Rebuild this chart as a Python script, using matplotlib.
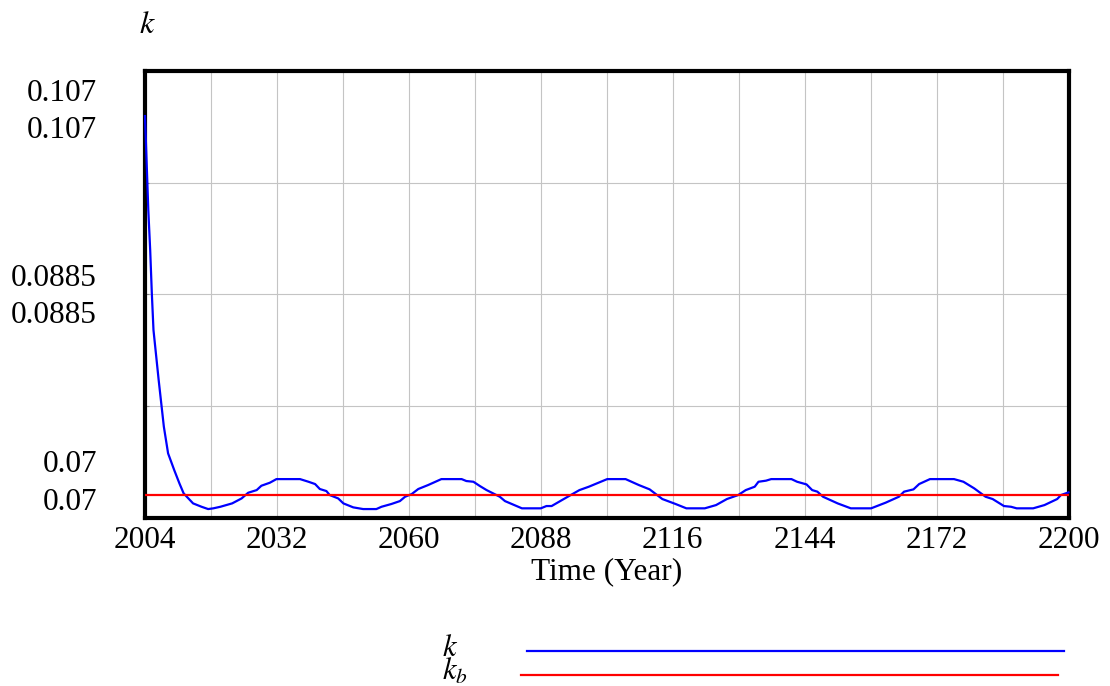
import numpy as np
import matplotlib
matplotlib.use("Agg")
import matplotlib.pyplot as plt
from matplotlib.lines import Line2D

plt.rcParams['font.family'] = ['Liberation Serif', 'DejaVu Serif']
plt.rcParams['mathtext.fontset'] = 'stix'

# data
years = [2004.0, 2004.7, 2005.1, 2005.45, 2005.8, 2006.9, 2008.0, 2008.9, 2010.2, 2011.3,
         2012.2, 2014.2, 2016.0, 2017.4, 2018.5, 2020.0, 2022.5, 2024.5, 2025.9, 2027.7,
         2028.7, 2030.5, 2031.9, 2036.9, 2038.7, 2040.1, 2041.1, 2042.5, 2043.2, 2045.0,
         2046.1, 2048.2, 2050.3, 2053.1, 2054.2, 2056.3, 2058.1, 2059.2, 2060.6, 2062.0,
         2064.1, 2066.9, 2071.2, 2072.2, 2073.7, 2075.1, 2076.5, 2079.3, 2080.4, 2084.0,
         2088.0, 2089.2, 2090.3, 2093.1, 2096.2, 2098.2, 2102.1, 2106.0, 2108.8, 2111.1,
         2113.8, 2116.6, 2118.9, 2122.8, 2125.2, 2127.5, 2129.9, 2131.5, 2133.4, 2134.2,
         2135.8, 2136.9, 2141.2, 2142.4, 2144.4, 2145.6, 2146.7, 2147.9, 2151.0, 2153.8,
         2158.1, 2161.2, 2164.0, 2165.1, 2167.1, 2168.3, 2170.6, 2175.7, 2177.7, 2180.0,
         2182.4, 2183.9, 2186.3, 2187.8, 2189.0, 2192.5, 2194.9, 2197.6, 2198.4, 2200.0]
k = [0.10327, 0.09549, 0.09218, 0.08859, 0.08556, 0.08142, 0.07756, 0.07535, 0.07397, 0.07287,
     0.07204, 0.07121, 0.07093, 0.07074, 0.07080, 0.07093, 0.07121, 0.07162, 0.07209, 0.07231,
     0.07267, 0.07292, 0.07322, 0.07322, 0.07300, 0.07281, 0.07240, 0.07223, 0.07190, 0.07162,
     0.07121, 0.07088, 0.07074, 0.07074, 0.07093, 0.07116, 0.07140, 0.07176, 0.07198, 0.07240,
     0.07273, 0.07322, 0.07322, 0.07306, 0.07300, 0.07264, 0.07231, 0.07176, 0.07140, 0.07080,
     0.07080, 0.07099, 0.07099, 0.07162, 0.07231, 0.07259, 0.07322, 0.07322, 0.07273, 0.07237,
     0.07157, 0.07116, 0.07080, 0.07080, 0.07107, 0.07157, 0.07190, 0.07231, 0.07259, 0.07300,
     0.07309, 0.07322, 0.07322, 0.07300, 0.07278, 0.07231, 0.07218, 0.07176, 0.07121, 0.07080,
     0.07080, 0.07127, 0.07176, 0.07218, 0.07237, 0.07281, 0.07322, 0.07322, 0.07300, 0.07245,
     0.07176, 0.07157, 0.07099, 0.07093, 0.07080, 0.07080, 0.07107, 0.07157, 0.07190, 0.07212]
kb_years = [2004, 2200]
kb = [0.0719, 0.0719]

x_ticks = [2004, 2032, 2060, 2088, 2116, 2144, 2172, 2200]
y_labels = ['0.107', '0.107', '0.0885', '0.0885', '0.07', '0.07']

W, H = 1110, 686
fig = plt.figure(figsize=(W / 100, H / 100), dpi=100)
ax = fig.add_axes([145 / W, 1 - 518 / H, (1068.5 - 145) / W, (518 - 71) / H])

ax.plot(years, k, color='#0000ff', lw=1.6, zorder=5, clip_on=False)
ax.plot(kb_years, kb, color='#ff0000', lw=1.6, zorder=5)

ax.set_xlim(2004, 2200)
ax.set_ylim(0.07, 0.107)
ax.set_xticks(x_ticks)
ax.set_xticks(np.arange(2018, 2200, 28), minor=True)
ax.set_yticks(np.linspace(0.07, 0.107, 5)[1:-1])
ax.set_yticklabels([])
ax.grid(True, which='both', color='#c4c4c4', lw=0.8)
ax.tick_params(axis='x', which='major', labelsize=22.5, length=0, pad=6)
ax.tick_params(axis='x', which='minor', length=0)
ax.tick_params(axis='y', direction='in', length=3, color='#888888')
for s in ax.spines.values():
    s.set_linewidth(3)
    s.set_zorder(4)
ax.set_xlabel('Time (Year)', fontsize=22.5, labelpad=1)

# duplicated vensim-style y labels
baselines = [100.7, 138.3, 285.7, 323.3, 471.7, 510]
for lab, b in zip(y_labels, baselines):
    fig.text(97 / W, 1 - b / H, lab, ha='right', va='baseline', fontsize=22.5)

fig.text(139 / W, 1 - 33 / H, '$k$', ha='left', va='baseline', fontsize=23)

# legend (both names in one text block, as stacked lines)
fig.text(442 / W, 1 - 680 / H, '$k$\n$k_b$', ha='left', va='baseline',
         fontsize=22, linespacing=0.75)
fig.add_artist(Line2D([527 / W, 1064 / W], [1 - 650.7 / H] * 2, color='#0000ff', lw=1.6))
fig.add_artist(Line2D([521 / W, 1058 / W], [1 - 675 / H] * 2, color='#ff0000', lw=1.6))

fig.savefig('out.png', dpi=100)
